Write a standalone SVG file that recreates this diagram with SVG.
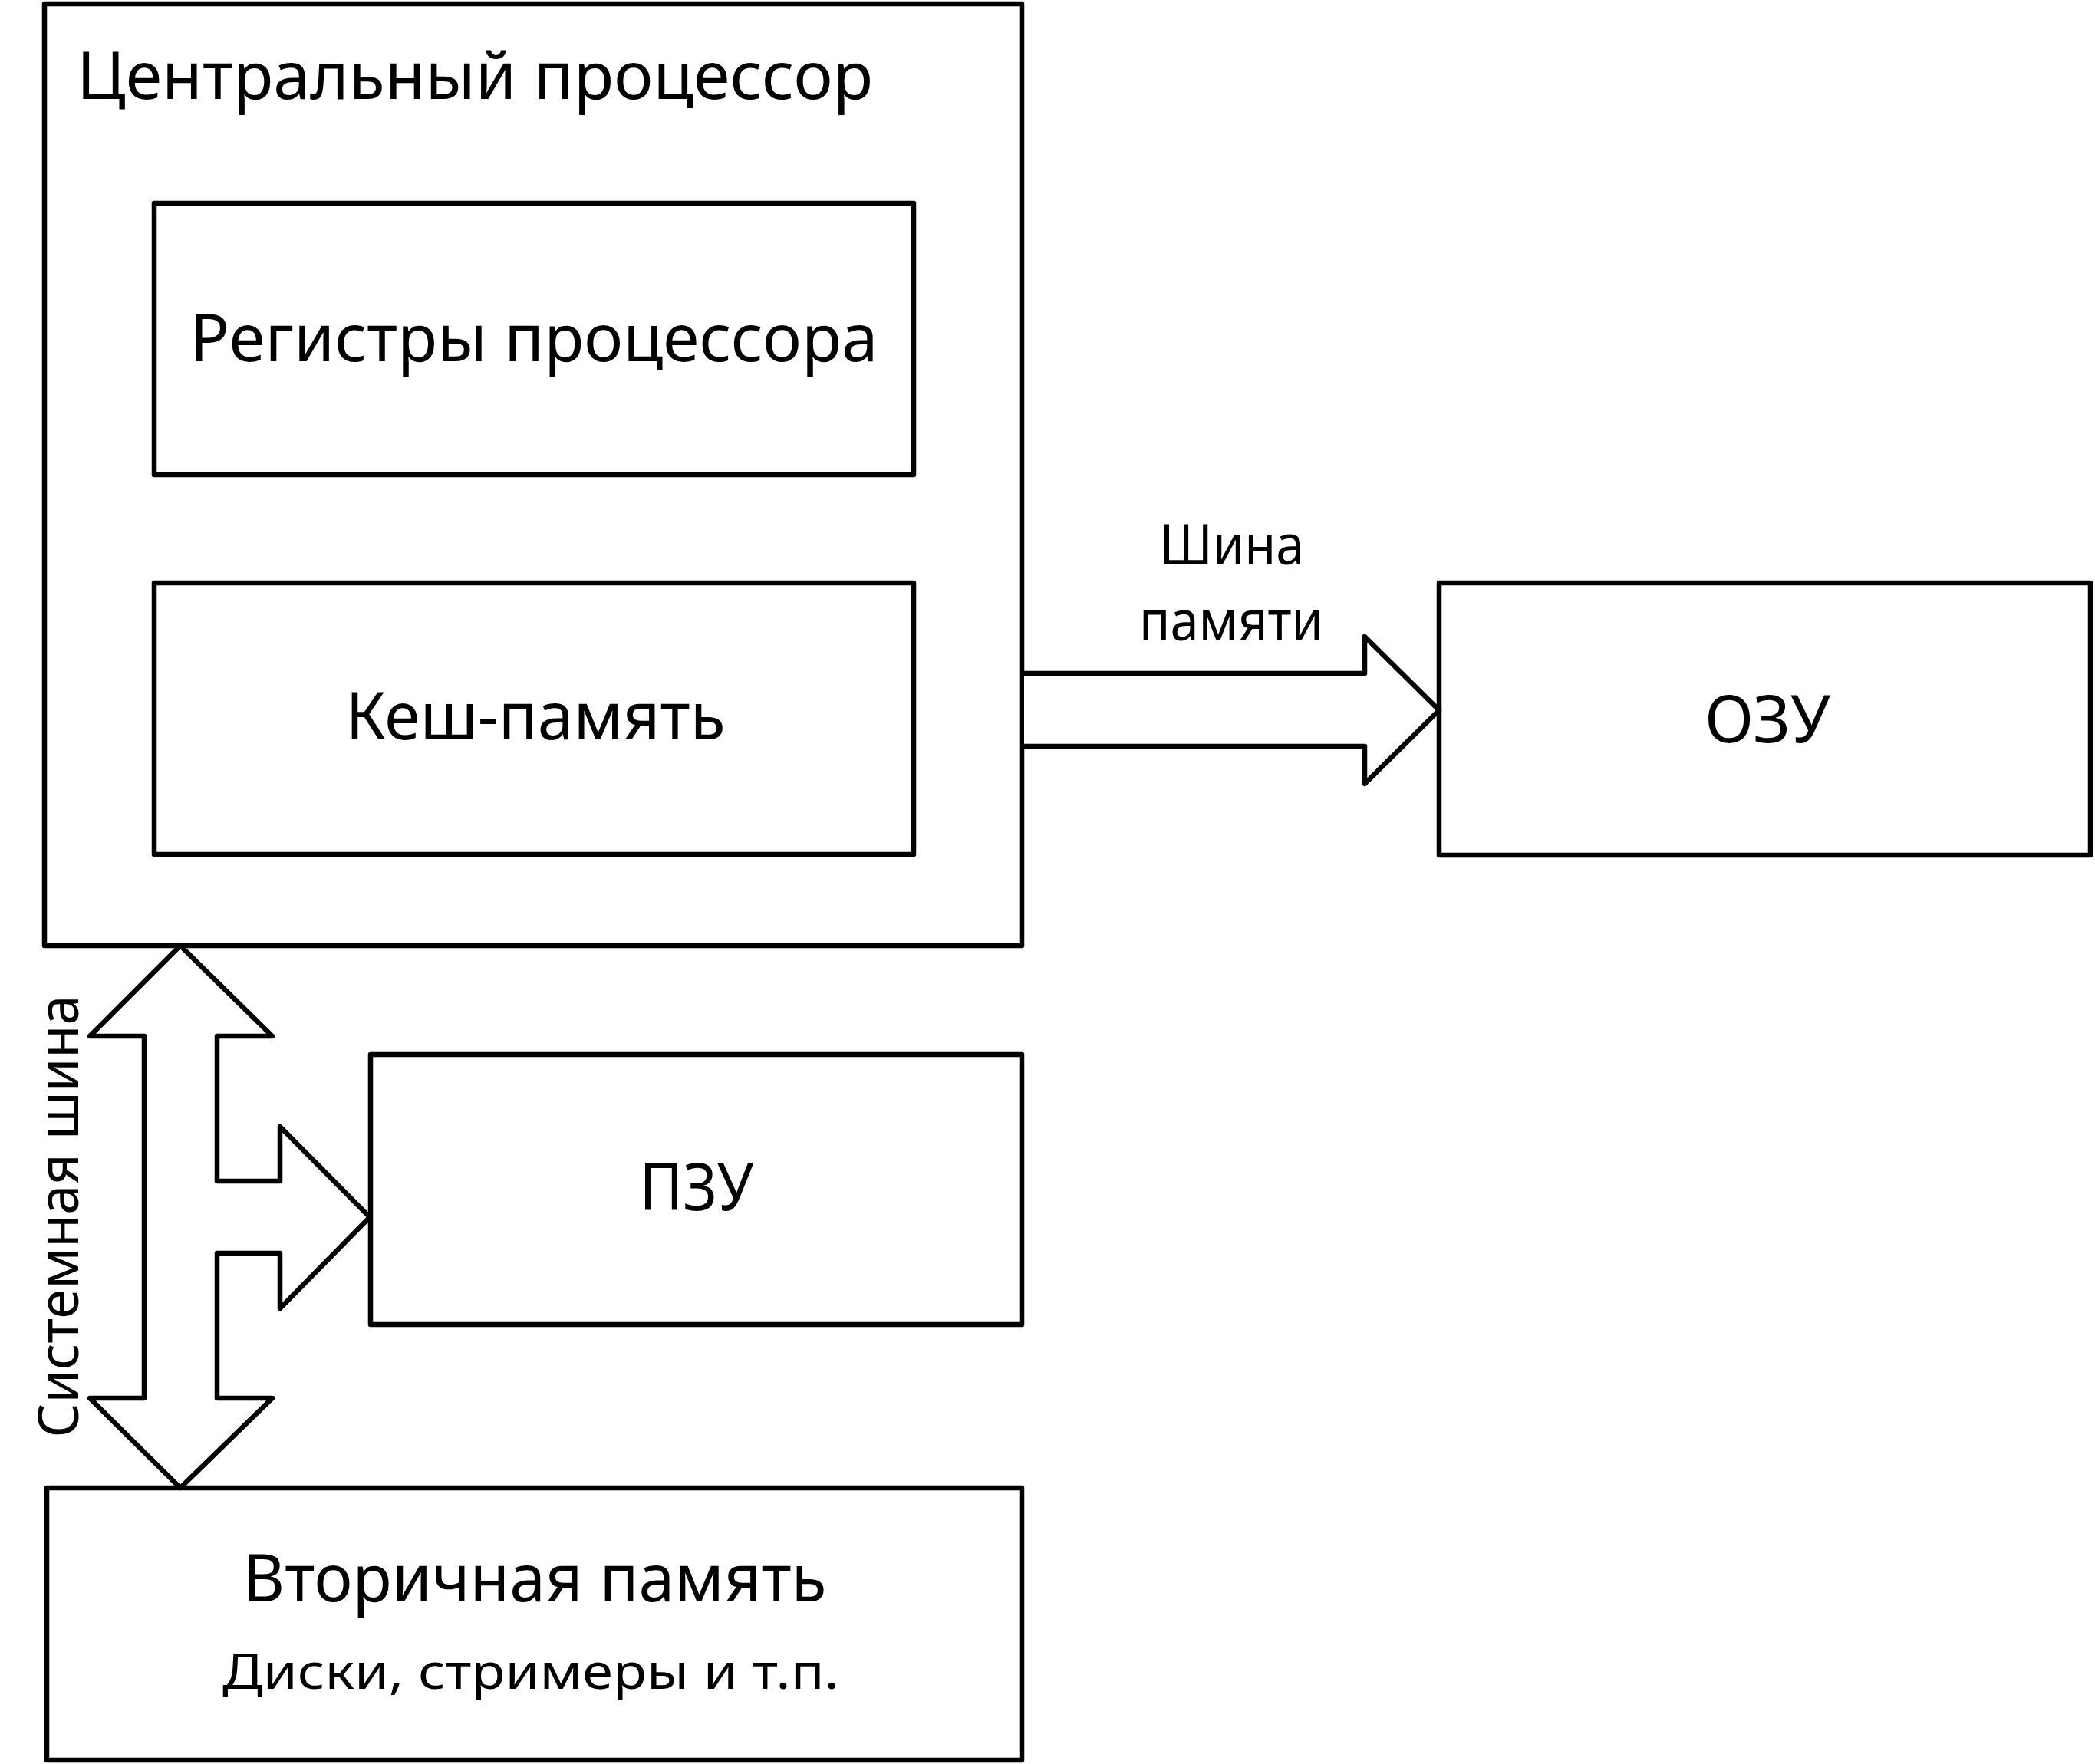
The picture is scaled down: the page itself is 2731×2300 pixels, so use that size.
<svg xmlns="http://www.w3.org/2000/svg" width="2731" height="2300" viewBox="0 0 2731 2300">
<style>
.box{fill:#fff;stroke:#000;stroke-width:6.5;stroke-linejoin:round}
.bus{fill:#fff;stroke:#000;stroke-width:6.5;stroke-linejoin:round;stroke-linecap:round}
text{font-family:"Noto Sans","Open Sans","DejaVu Sans",sans-serif;fill:#000}
.big{font-size:86px}
.mid{font-size:73px}
.small{font-size:63px}
</style>
<rect width="2731" height="2300" fill="#fff"/>
<g id="cpu">
<rect class="box" x="58" y="5" width="1274" height="1228"/>
<text class="big" x="100" y="129" textLength="1038" lengthAdjust="spacingAndGlyphs">Центральный процессор</text>
</g>
<g id="registers">
<rect class="box" x="201" y="265" width="990" height="354"/>
<text class="big" x="696" y="471" text-anchor="middle" textLength="897" lengthAdjust="spacingAndGlyphs">Регистры процессора</text>
</g>
<g id="cache">
<rect class="box" x="201" y="760" width="990" height="354"/>
<text class="big" x="698" y="964" text-anchor="middle" textLength="495" lengthAdjust="spacingAndGlyphs">Кеш-память</text>
</g>
<g id="ram">
<rect class="box" x="1876" y="760" width="849" height="355"/>
<text class="big" x="2304" y="968" text-anchor="middle" textLength="164" lengthAdjust="spacingAndGlyphs">ОЗУ</text>
</g>
<g id="rom">
<rect class="box" x="483" y="1375" width="849" height="352"/>
<text class="big" x="908" y="1578" text-anchor="middle" textLength="149" lengthAdjust="spacingAndGlyphs">ПЗУ</text>
</g>
<g id="secondary">
<rect class="box" x="61" y="1940" width="1271" height="355"/>
<text class="big" x="697" y="2088" text-anchor="middle" textLength="761" lengthAdjust="spacingAndGlyphs">Вторичная память</text>
<text class="small" x="692" y="2202" text-anchor="middle" textLength="804" lengthAdjust="spacingAndGlyphs">Диски, стримеры и т.п.</text>
</g>
<g id="connectors">
<g id="memory-bus">
<polyline class="bus" points="1335,878 1779,878 1779,830 1876,926 1779,1022 1779,973 1335,973"/>
<text class="mid" x="1606" y="736" text-anchor="middle" textLength="189" lengthAdjust="spacingAndGlyphs">Шина</text>
<text class="mid" x="1605" y="835" text-anchor="middle" textLength="240" lengthAdjust="spacingAndGlyphs">памяти</text>
</g>
<g id="system-bus">
<polygon class="bus" points="235,1233 355,1351 283,1351 283,1540 365,1540 365,1469 482,1587 365,1706 365,1634 283,1634 283,1823 355,1823 235,1940 117,1823 188,1823 188,1351 117,1351"/>
<text class="mid" transform="translate(102,1586) rotate(-90)" x="0" y="0" text-anchor="middle" textLength="577" lengthAdjust="spacingAndGlyphs">Системная шина</text>
</g>
</g>
</svg>
